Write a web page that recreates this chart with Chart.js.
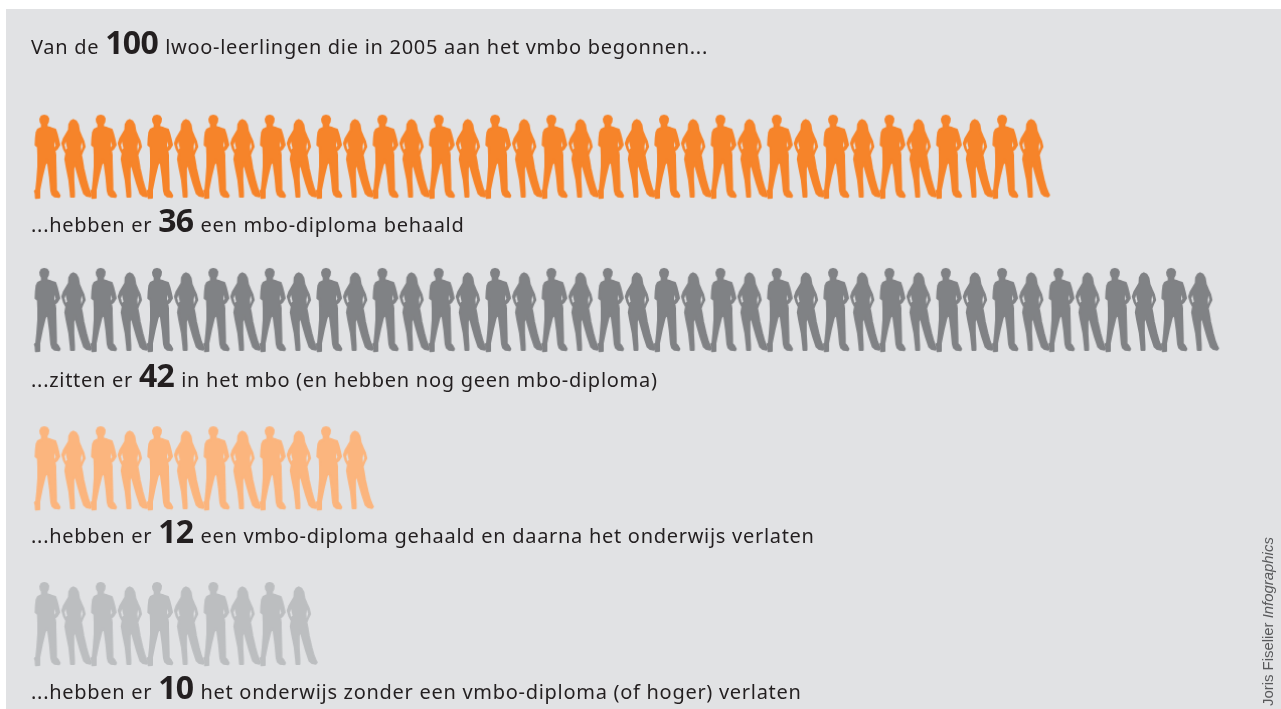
<!DOCTYPE html>
<html><head><meta charset="utf-8">
<script src="https://cdn.jsdelivr.net/npm/chart.js@4"></script>
<style>
html,body{margin:0;padding:0;background:#fff;width:1281px;height:709px;overflow:hidden}
#panel{position:absolute;left:6px;top:9px;width:1275px;height:700px;background:#e1e2e4;overflow:hidden}
canvas{position:absolute;left:0;top:0}
.t{position:absolute;white-space:nowrap;font-family:"Noto Sans",sans-serif;font-size:20px;line-height:30px;color:#231f20}
.t b{font-size:32px;font-weight:700;letter-spacing:-.6px;margin:0 1px 0 0}
#credit{position:absolute;white-space:nowrap;font-family:"Liberation Sans",sans-serif;font-size:14.9px;color:#58595b;transform-origin:0 0;transform:rotate(-90deg)}
</style></head><body>
<div id="panel"><canvas id="c" width="1275" height="700"></canvas></div>
<script>
// DATA
const headingBefore = "Van de ";
const headingTotal = 100;
const headingAfter = " lwoo-leerlingen die in 2005 aan het vmbo begonnen...";
const labelsBefore = ["...hebben er ", "...zitten er ", "...hebben er ", "...hebben er "];
const counts = [36, 42, 12, 10];
const labelsAfter = [
  " een mbo-diploma behaald",
  " in het mbo (en hebben nog geen mbo-diploma)",
  " een vmbo-diploma gehaald en daarna het onderwijs verlaten",
  " het onderwijs zonder een vmbo-diploma (of hoger) verlaten"
];
const credit = ["Joris Fiselier ", "Infographics"];

// STYLE / LAYOUT
const colors = ["#f6842a", "#808285", "#fbb57e", "#bcbec0"];
const rowSlots = [0, 0.984, 2, 3];
const labelDrop = [48, 50, 48, 48];
const labelSpacing = 0.71;

const manOutline = [[66,58],[62,50],[61,42],[65,34],[73,32],[81,34],[85,41],[84,50],[80,58],[80,66],[92,69],[106,74],[110,86],[114,102],[118,120],[111,131],[104,137],[106,150],[106,165],[107,200],[108,240],[108,256],[114,263],[119,272],[117,276],[104,274],[97,268],[94,258],[90,215],[85,178],[80,166],[74,182],[66,215],[58,255],[58,278],[48,279],[47,265],[45,258],[49,254],[52,225],[55,185],[55,150],[54,126],[47,120],[48,100],[50,82],[54,74],[66,68]];
const manHoles = [[[104,110],[107,121],[103,127]]];
const womanOutline = [[160,45],[168,49],[174,60],[177,78],[184,95],[190,108],[194,125],[188,137],[183,150],[186,165],[190,190],[198,225],[205,250],[210,262],[214,270],[211,274],[200,272],[192,265],[182,235],[172,200],[165,174],[160,190],[160,225],[162,262],[162,275],[153,275],[152,262],[148,225],[140,185],[136,162],[139,145],[132,132],[127,115],[132,100],[139,88],[147,75],[148,58],[153,49]];
const womanHoles = [[[137,110],[141,129],[137,134],[134,120]],[[185,112],[188,124],[184,138],[183,125]]];

function sprite(color, outline, holes, ax) {
  const c = document.createElement("canvas");
  c.width = 40; c.height = 96;
  const g = c.getContext("2d");
  g.translate(20, 48); g.scale(1/3, 1/3); g.translate(-ax, -155);
  const trace = pts => {
    g.beginPath();
    pts.forEach((p, i) => i ? g.lineTo(p[0], p[1]) : g.moveTo(p[0], p[1]));
    g.closePath();
  };
  g.fillStyle = color; g.strokeStyle = color; g.lineWidth = 6; g.lineJoin = "round";
  trace(outline); g.fill(); g.stroke();
  g.globalCompositeOperation = "destination-out";
  holes.forEach(h => { trace(h); g.fill(); });
  return c;
}
const sprites = colors.map(col => [sprite(col, manOutline, manHoles, 82), sprite(col, womanOutline, womanHoles, 166.5)]);

const datasets = counts.map((n, r) => ({
  label: labelsBefore[r] + n + labelsAfter[r],
  data: Array.from({length: n}, (_, i) => ({x: i, y: rowSlots[r]})),
  pointStyle: ctx => sprites[r][ctx.dataIndex % 2],
  pointRadius: 20,
  backgroundColor: colors[r]
}));

const chart = new Chart(document.getElementById("c"), {
  type: "scatter",
  data: {datasets},
  options: {
    responsive: false, animation: false, events: [],
    layout: {padding: 0, autoPadding: false},
    plugins: {legend: {display: false}, tooltip: {enabled: false}},
    scales: {
      x: {type: "linear", display: false, min: -1.466, max: 43.794},
      y: {type: "linear", display: false, reverse: true, min: -0.948, max: 3.546}
    }
  }
});

const panel = document.getElementById("panel");
function addLine(before, num, after, left, top, spacing) {
  const d = document.createElement("div");
  d.className = "t";
  d.style.left = left + "px"; d.style.top = top + "px"; d.style.letterSpacing = spacing + "px";
  d.append(before);
  const b = document.createElement("b"); b.textContent = num; d.append(b);
  d.append(after);
  panel.append(d);
}
addLine(headingBefore, headingTotal, headingAfter, 25, 18, labelSpacing);
counts.forEach((n, r) => {
  const top = chart.scales.y.getPixelForValue(rowSlots[r]) + labelDrop[r];
  addLine(labelsBefore[r], n, labelsAfter[r], 25, top, labelSpacing);
});
const cr = document.createElement("div");
cr.id = "credit";
cr.append(credit[0]);
const it = document.createElement("i"); it.textContent = credit[1]; cr.append(it);
cr.style.left = "1254px"; cr.style.top = "697px";
panel.append(cr);
</script>
</body></html>
